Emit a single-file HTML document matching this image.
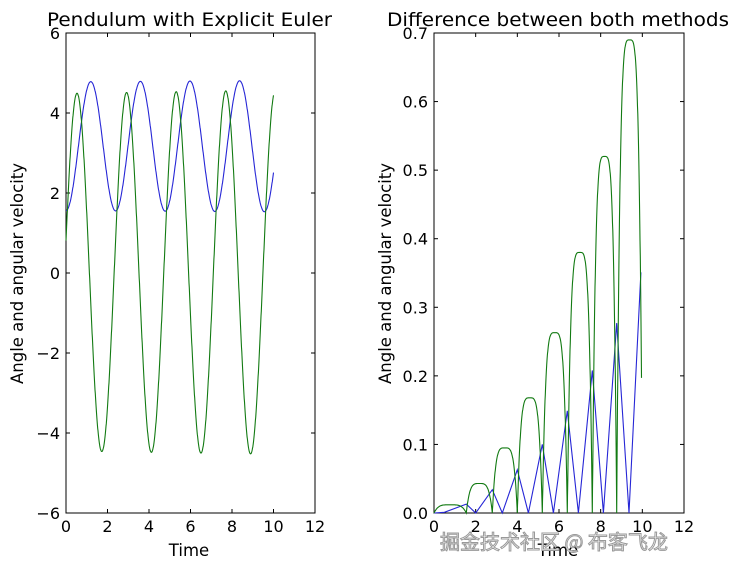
<!DOCTYPE html><html><head><style>body{margin:0;background:#fff}svg{font-family:"DejaVu Sans",sans-serif}</style></head><body>
<svg id="s" width="743" height="570" xmlns="http://www.w3.org/2000/svg">
<rect width="743" height="570" fill="#fff"/>
<text x="47" y="26" font-size="19" textLength="285" lengthAdjust="spacingAndGlyphs">Pendulum with Explicit Euler</text>
<text x="387" y="26" font-size="19" textLength="342" lengthAdjust="spacingAndGlyphs">Difference between both methods</text>
<text x="189" y="556" font-size="16.5" text-anchor="middle">Time</text>
<text x="558" y="556" font-size="16.5" text-anchor="middle">Time</text>
<text transform="translate(23,384) rotate(-90)" font-size="16.5" textLength="221" lengthAdjust="spacingAndGlyphs">Angle and angular velocity</text>
<text transform="translate(391,384) rotate(-90)" font-size="16.5" textLength="221" lengthAdjust="spacingAndGlyphs">Angle and angular velocity</text>
<g id="g"></g>
<text x="440" y="549" font-size="20" fill="#fff" stroke="#999" stroke-width="1" font-family="'Noto Sans CJK SC',sans-serif">掘金技术社区 @ 布客飞龙</text>
</svg>
<script>
const g=document.getElementById('g');let h='';
function axes(x0,x1,y0,y1,xt,yt){
 h+=`<rect x="${x0}" y="${y0}" width="${x1-x0}" height="${y1-y0}" fill="none" stroke="#000"/>`;
 xt.forEach(([v,l])=>{h+=`<line x1="${v}" x2="${v}" y1="${y1}" y2="${y1-4}" stroke="#000"/><line x1="${v}" x2="${v}" y1="${y0}" y2="${y0+4}" stroke="#000"/><text x="${v}" y="${y1+19}" font-size="16" text-anchor="middle">${l}</text>`});
 yt.forEach(([v,l])=>{h+=`<line x1="${x0}" x2="${x0+4}" y1="${v}" y2="${v}" stroke="#000"/><line x1="${x1}" x2="${x1-4}" y1="${v}" y2="${v}" stroke="#000"/><text x="${x0-6}" y="${v+6}" font-size="16" text-anchor="end">${l}</text>`});
}
const LX=t=>66+t*249/12, LY=v=>273-v*40;
axes(66,315,33,513,[0,2,4,6,8,10,12].map(t=>[LX(t),t]),[6,4,2,0,-2,-4,-6].map(v=>[LY(v),v<0?'−'+(-v):v]));
const w=2*Math.PI/2.39;
let pb='',pg='';
for(let i=0;i<=1000;i++){const t=i/100;
 const b=3.17-(1.61+0.003*t)*Math.cos(w*t);
 const gg=0.02+(4.47+0.008*t)*Math.cos(w*(t-0.53));
 pb+=(i?'L':'M')+LX(t).toFixed(1)+' '+LY(b).toFixed(1);
 pg+=(i?'L':'M')+LX(t).toFixed(1)+' '+LY(gg).toFixed(1);}
h+=`<path d="${pb}" fill="none" stroke="#2626d6" stroke-width="1.1"/><path d="${pg}" fill="none" stroke="#127a12" stroke-width="1.1"/>`;
const RX=t=>434+t*250/12, RY=v=>513-v*480/0.7;
axes(434,684,33,513,[0,2,4,6,8,10,12].map(t=>[RX(t),t]),[0.7,0.6,0.5,0.4,0.3,0.2,0.1,0].map(v=>[RY(v),v.toFixed(1)]));
const bp=[[0,0],[0.5,0.001],[1.55,0.013],[2.0,0],[2.8,0.034],[3.28,0],[4.0,0.063],[4.53,0],[5.2,0.1],[5.73,0],[6.4,0.149],[6.93,0],[7.6,0.208],[8.13,0],[8.77,0.277],[9.36,0],[9.93,0.351]];
pb=bp.map((p,i)=>(i?'L':'M')+RX(p[0]).toFixed(1)+' '+RY(p[1]).toFixed(1)).join('');
const gz=[0,1.55,2.8,4.0,5.2,6.4,7.6,8.77,10.01], gh=[0.012,0.043,0.095,0.168,0.263,0.38,0.52,0.69];
pg='';
for(let i=0;i<=996;i++){const t=i/100;
 let k=0;while(k<gz.length-2&&t>gz[k+1])k++;
 const f=(t-gz[k])/(gz[k+1]-gz[k]);
 const gv=gh[k]*(1-Math.pow(Math.abs(2*f-1),4));
 pg+=(i?'L':'M')+RX(t).toFixed(1)+' '+RY(gv).toFixed(1);}
h+=`<path d="${pb}" fill="none" stroke="#2626d6" stroke-width="1.1"/><path d="${pg}" fill="none" stroke="#127a12" stroke-width="1.1"/>`;
g.innerHTML=h;
</script></body></html>
